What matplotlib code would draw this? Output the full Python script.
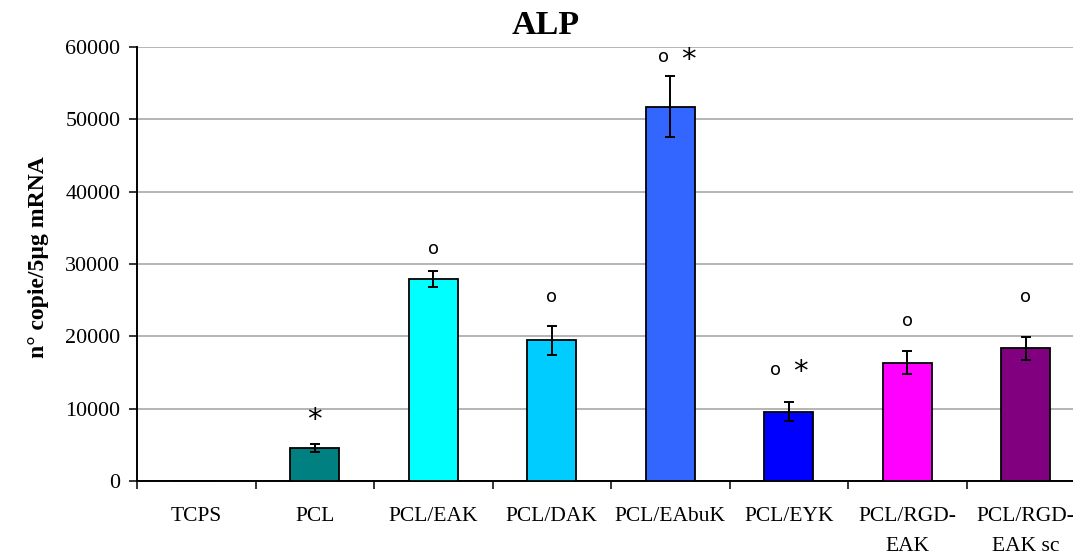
import matplotlib
matplotlib.use("Agg")
import matplotlib.pyplot as plt
import numpy as np

# ALP expression per substrate
categories = ["TCPS", "PCL", "PCL/EAK", "PCL/DAK", "PCL/EAbuK", "PCL/EYK",
              "PCL/RGD-\nEAK", "PCL/RGD-\nEAK sc"]
values = [0, 4550, 27950, 19480, 51750, 9570, 16350, 18350]
errors = [0, 600, 1080, 2000, 4260, 1290, 1570, 1570]
colors = ["#C0C0C0", "#008080", "#00FFFF", "#00CCFF", "#3366FF", "#0000FF",
          "#FF00FF", "#800080"]

# significance marks: (category index, height)
circle_marks = [(2, 32040), (3, 25460), (4, 58600), (5, 15330), (6, 22140), (7, 25460)]
star_marks = [(1, 8430), (4, 58150), (5, 15100)]
# horizontal shift of marks on bars carrying both symbols
pair_shift = {4: (-0.06, 0.15), 5: (-0.11, 0.10)}

yticks = [0, 10000, 20000, 30000, 40000, 50000, 60000]

plt.rcParams["font.family"] = ["Liberation Serif", "DejaVu Serif"]

fig = plt.figure(figsize=(10.73, 5.53), dpi=100)
ax = fig.add_axes([137 / 1073, 72 / 553, 948 / 1073, 434 / 553])

x = np.arange(len(categories))
ax.bar(x, values, width=0.41, color=colors, edgecolor="black", linewidth=1.3, zorder=3)
ax.errorbar(x[1:], values[1:], yerr=errors[1:], fmt="none", ecolor="black",
            elinewidth=1.4, capsize=3.6, capthick=1.4, zorder=4)

for i, yv in circle_marks:
    dx = pair_shift.get(i, (0, 0))[0]
    ax.text(i + dx, yv, "o", ha="center", va="center", fontsize=13,
            family="DejaVu Sans", zorder=5)
for i, yv in star_marks:
    dx = pair_shift.get(i, (0, 0))[1]
    ax.text(i + dx, yv, "*", ha="center", va="center", fontsize=21,
            family="DejaVu Sans", zorder=5)

ax.set_xlim(-0.5, len(categories) - 0.5)
ax.set_ylim(0, 60000)
ax.set_yticks(yticks)
ax.set_yticklabels([str(v) for v in yticks], fontsize=15.8)
ax.yaxis.grid(True, color="#A0A0A0", linewidth=1.1, zorder=0)
ax.set_axisbelow(True)

ax.set_xticks(x)
ax.set_xticklabels(categories, fontsize=15.5, linespacing=1.75)
ax.tick_params(axis="x", which="major", length=0, pad=19)
ax.set_xticks(np.arange(-0.5, len(categories)), minor=True)
ax.tick_params(axis="x", which="minor", length=6, width=1.1, direction="out")
ax.tick_params(axis="y", length=6, width=1.1, direction="out", pad=6)

for side in ("top", "right"):
    ax.spines[side].set_visible(False)
for side in ("left", "bottom"):
    ax.spines[side].set_linewidth(1.4)

ax.set_ylabel("n° copie/5µg mRNA", fontsize=17, fontweight="bold")
ax.yaxis.set_label_coords(-0.093, 0.515)
fig.text(546 / 1073, 1 - 25 / 553, "ALP", ha="center", va="center",
         fontsize=24.5, fontweight="bold")

fig.savefig("out.png", dpi=100)
